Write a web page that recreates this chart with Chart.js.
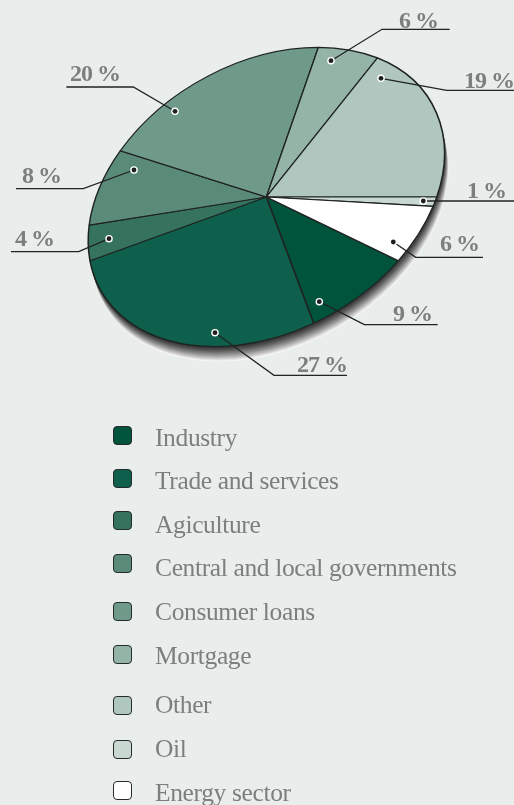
<!DOCTYPE html>
<html>
<head>
<meta charset="utf-8">
<title>Loan portfolio</title>
<script src="https://cdn.jsdelivr.net/npm/chart.js@4"></script>
<style>
  html, body { margin: 0; padding: 0; background: #e9eeec; }
  #wrap { position: relative; width: 514px; height: 805px; overflow: hidden; }
  #pie { position: absolute; left: 0; top: 0; }
  .pct, .name { position: absolute; white-space: nowrap; font-family: "Liberation Serif", serif; line-height: 24px; }
  .pct { font-size: 24px; font-weight: bold; color: #7b807f; letter-spacing: -1px; }
  .name { font-size: 25.5px; color: #7b807f; left: 155px; letter-spacing: -0.37px; }
  .swatch { position: absolute; left: 112.5px; width: 17px; height: 17px; border: 1.7px solid #262a29; border-radius: 4px; }
</style>
</head>
<body>
<div id="wrap"><canvas id="pie" width="514" height="805"></canvas></div>
<script>
// data
const categories = ['Industry', 'Trade and services', 'Agiculture', 'Central and local governments',
  'Consumer loans', 'Mortgage', 'Other', 'Oil', 'Energy sector'];
const shares = [9, 27, 4, 8, 20, 6, 19, 1, 6];
const colors = ['#00543c', '#0e5f4b', '#35735f', '#5a8a78', '#6f9a8a', '#94b4a7', '#afc7be', '#c9d9d2', '#ffffff'];

// layout: legend rows and the leader line of each slice
const swatchTops = [426, 469, 511, 554, 602, 645, 696, 740, 781];
const nameBaselines = [447, 490, 534, 577, 621, 665, 714, 758, 802];
const labelSpots = [[393, 321], [297, 372], [15, 246], [22, 183], [70, 81], [399, 28], [464, 88], [467, 198], [440, 251]];
// dot, elbow, end of line
const leaders = [
  [[319.3, 301.7], [364.3, 324.7], [437.7, 324.7]],
  [[215, 332.7], [274, 375.3], [347, 375.3]],
  [[109, 238.7], [78.7, 251.7], [11, 251.7]],
  [[134, 170], [83.3, 188.7], [16, 188.7]],
  [[175, 111.3], [133.3, 87], [66.3, 87]],
  [[331, 60.7], [382, 29.3], [449.7, 29.3]],
  [[381, 78.3], [446.7, 90.3], [514, 90.3]],
  [[423.3, 201], [423.3, 201], [514, 201]],
  [[393.3, 242], [415.7, 257.3], [483, 257.3]]
];

const RADIUS = 150;
// the pie is a flat circle seen at an angle
const TILT = [170.4 / RADIUS, 0, -52 / RADIUS, 149.6 / RADIUS];

const wrap = document.getElementById('wrap');

function addDiv(cls, text, left, top) {
  const el = document.createElement('div');
  el.className = cls;
  if (text) el.textContent = text;
  if (left !== null) el.style.left = left + 'px';
  el.style.top = top + 'px';
  wrap.appendChild(el);
  return el;
}

categories.forEach((name, i) => {
  const sw = addDiv('swatch', '', null, swatchTops[i]);
  sw.style.background = colors[i];
  addDiv('name', name, null, nameBaselines[i] - 20.6);
  addDiv('pct', shares[i] + ' %', labelSpots[i][0], labelSpots[i][1] - 20.1);
});

const tiltPlugin = {
  id: 'tilt',
  beforeDatasetDraw(chart) {
    const { ctx } = chart;
    const arc = chart.getDatasetMeta(0).data[0];
    ctx.save();
    ctx.translate(arc.x, arc.y);
    ctx.transform(...TILT, 0, 0);
    // shadow: stacked copies of the disc, light outside to dark at the rim
    const steps = 16;
    for (let k = steps; k >= 1; k--) {
      const f = k / steps;
      const g = Math.round(48 + (246 - 48) * Math.pow(f, 1.3));
      ctx.save();
      ctx.setTransform(1, 0, 0, 1, arc.x + 4 * f, arc.y + 15 * f);
      ctx.transform(...TILT, 0, 0);
      ctx.beginPath();
      ctx.arc(0, 0, RADIUS, 0, Math.PI * 2);
      ctx.fillStyle = `rgb(${g},${g},${g})`;
      ctx.fill();
      ctx.restore();
    }
    ctx.translate(-arc.x, -arc.y);
  },
  afterDatasetDraw(chart) {
    chart.ctx.restore();
  },
  afterDraw(chart) {
    const { ctx } = chart;
    ctx.save();
    leaders.forEach(([dot, elbow, end]) => {
      ctx.beginPath();
      ctx.moveTo(dot[0], dot[1]);
      ctx.lineTo(elbow[0], elbow[1]);
      ctx.lineTo(end[0], end[1]);
      ctx.strokeStyle = '#1f2322';
      ctx.lineWidth = 1.3;
      ctx.stroke();
      ctx.beginPath();
      ctx.arc(dot[0], dot[1], 3.8, 0, Math.PI * 2);
      ctx.fillStyle = '#ffffff';
      ctx.fill();
      ctx.beginPath();
      ctx.arc(dot[0], dot[1], 2.4, 0, Math.PI * 2);
      ctx.fillStyle = '#1c1f1e';
      ctx.fill();
    });
    ctx.restore();
  }
};

new Chart(document.getElementById('pie'), {
  type: 'pie',
  data: {
    labels: categories,
    datasets: [{
      data: shares,
      backgroundColor: colors,
      borderColor: '#1f2322',
      borderWidth: 1.25,
      radius: RADIUS,
      clip: false
    }]
  },
  options: {
    responsive: false,
    animation: false,
    rotation: 115.2,
    layout: { padding: { left: 18.6, bottom: 411 } },
    plugins: { legend: { display: false }, tooltip: { enabled: false } }
  },
  plugins: [tiltPlugin]
});
</script>
</body>
</html>
